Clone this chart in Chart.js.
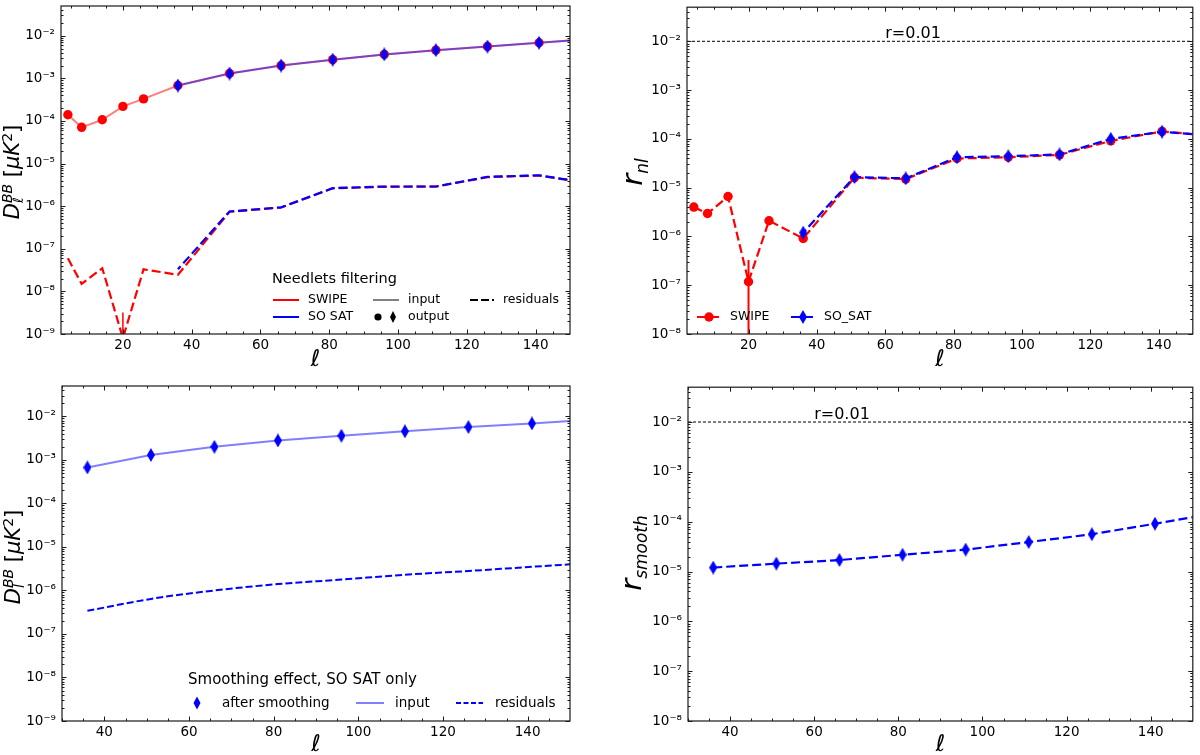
<!DOCTYPE html>
<html>
<head>
<meta charset="utf-8">
<title>Needlets filtering and smoothing residuals</title>
<script src="https://cdn.jsdelivr.net/npm/chart.js@4.4.1/dist/chart.umd.min.js"></script>
<style>
  html, body { margin: 0; padding: 0; background: #fff; }
  .panel { position: absolute; }
  #p1 { left: 0; top: 0; width: 600px; height: 380px; }
  #p2 { left: 600px; top: 0; width: 600px; height: 380px; }
  #p3 { left: 0; top: 380px; width: 600px; height: 375px; }
  #p4 { left: 600px; top: 380px; width: 600px; height: 375px; }
</style>
</head>
<body>
<div class="panel" id="p1"><canvas id="c1"></canvas></div>
<div class="panel" id="p2"><canvas id="c2"></canvas></div>
<div class="panel" id="p3"><canvas id="c3"></canvas></div>
<div class="panel" id="p4"><canvas id="c4"></canvas></div>
<script>
// bin centres; 156 is just past the plotted range so lines run to the edge
const ellSwipe = [4, 8, 14, 20, 26, 36, 51, 66, 81, 96, 111, 126, 141, 156];
const ellSat = [36, 51, 66, 81, 96, 111, 126, 141, 156];

// top left: D_ell^BB, needlets filtering
const swipeInput = [1.4e-4, 7.1e-5, 1.07e-4, 2.2e-4, 3.3e-4, 6.8e-4, 1.3e-3, 2.0e-3, 2.75e-3, 3.65e-3, 4.6e-3, 5.6e-3, 6.85e-3, 8.5e-3];
const swipeOutput = [1.4e-4, 7.1e-5, 1.07e-4, 2.2e-4, 3.3e-4, 6.8e-4, 1.3e-3, 2.0e-3, 2.75e-3, 3.65e-3, 4.6e-3, 5.6e-3, 6.85e-3];
const satInput = [6.8e-4, 1.3e-3, 2.0e-3, 2.75e-3, 3.65e-3, 4.6e-3, 5.6e-3, 6.85e-3, 8.5e-3];
const satOutput = [6.8e-4, 1.3e-3, 2.0e-3, 2.75e-3, 3.65e-3, 4.6e-3, 5.6e-3, 6.85e-3];
const swipeResid = [6.0e-8, 1.5e-8, 3.5e-8, 8e-10, 3.3e-8, 2.45e-8, 7.4e-7, 9.3e-7, 2.63e-6, 2.85e-6, 2.88e-6, 4.8e-6, 5.25e-6, 3.4e-6];
const satResid = [3.3e-8, 7.5e-7, 9.4e-7, 2.65e-6, 2.9e-6, 2.9e-6, 4.9e-6, 5.3e-6, 3.45e-6];
const residErr20 = [3.2e-9, 1e-10];

// top right: r_nl
const rnlSwipe = [4.0e-6, 2.95e-6, 6.6e-6, 1.18e-7, 2.1e-6, 9.1e-7, 1.6e-5, 1.5e-5, 3.95e-5, 4.2e-5, 4.7e-5, 9.1e-5, 1.42e-4, 1.15e-4];
const rnlSat = [1.2e-6, 1.65e-5, 1.55e-5, 4.2e-5, 4.4e-5, 4.8e-5, 1.0e-4, 1.4e-4, 1.15e-4];
const rnlErr20 = [3.3e-7, 1e-9];

// bottom: smoothing effect, SO SAT only
const ellSmooth = [36, 51, 66, 81, 96, 111, 126, 141, 156];
const smoothInput = [6.7e-4, 1.3e-3, 2.0e-3, 2.8e-3, 3.6e-3, 4.55e-3, 5.7e-3, 6.9e-3, 8.5e-3];
const smoothOutput = [6.7e-4, 1.3e-3, 2.0e-3, 2.8e-3, 3.6e-3, 4.55e-3, 5.7e-3, 6.9e-3];
const smoothResid = [3.4e-7, 6.4e-7, 1.0e-6, 1.4e-6, 1.78e-6, 2.3e-6, 2.8e-6, 3.5e-6, 4.35e-6];
const rSmooth = [1.2e-5, 1.44e-5, 1.7e-5, 2.17e-5, 2.75e-5, 3.9e-5, 5.6e-5, 9.1e-5, 1.5e-4];

const rRef = 0.01;

const xTicksTop = [20, 40, 60, 80, 100, 120, 140];
const xTicksBottom = [40, 60, 80, 100, 120, 140];
const yTicksD = [1e-9, 1e-8, 1e-7, 1e-6, 1e-5, 1e-4, 1e-3, 1e-2];
const yTicksR = [1e-8, 1e-7, 1e-6, 1e-5, 1e-4, 1e-3, 1e-2];

const FONT = '"DejaVu Sans", sans-serif';
const RED = '#ff0000';
const BLUE = '#0000ff';
const RED_A = 'rgba(255,0,0,0.5)';
const BLUE_A = 'rgba(0,0,255,0.5)';

const SUP = { '-': '⁻', '0': '⁰', '1': '¹', '2': '²', '3': '³', '4': '⁴', '5': '⁵', '6': '⁶', '7': '⁷', '8': '⁸', '9': '⁹' };
const powLabel = v => '10' + String(Math.round(Math.log10(v))).replace(/./g, c => SUP[c]);

function pts(xs, ys) {
  return ys.map((y, i) => ({ x: xs[i], y: y }));
}
function vbar(x, ys) {
  return ys.map(y => ({ x: x, y: y }));
}

// matplotlib 'd' marker
function thinDiamond(color, w, h) {
  const c = document.createElement('canvas');
  c.width = w; c.height = h;
  const g = c.getContext('2d');
  g.fillStyle = color;
  g.beginPath();
  g.moveTo(w / 2, 0); g.lineTo(w, h / 2); g.lineTo(w / 2, h); g.lineTo(0, h / 2);
  g.closePath();
  g.fill();
  return c;
}
const diamondBlue = thinDiamond(BLUE, 8, 14);

// rotated label with sub/superscripts
function drawRich(ctx, parts, bx, cy) {
  const fontOf = p => (p.it ? 'italic ' : '') + p.s + 'px ' + FONT;
  parts.forEach(p => { ctx.font = fontOf(p); p.w = ctx.measureText(p.t).width; });
  const placed = [];
  let x = 0, i = 0;
  while (i < parts.length) {
    const p = parts[i];
    if (p.stack && i + 1 < parts.length) {
      const q = parts[i + 1];
      placed.push([p, x], [q, x]);
      x += Math.max(p.w, q.w);
      i += 2;
    } else {
      placed.push([p, x]);
      x += p.w;
      i += 1;
    }
  }
  const total = x;
  ctx.save();
  ctx.translate(bx, cy);
  ctx.rotate(-Math.PI / 2);
  ctx.textAlign = 'left';
  ctx.textBaseline = 'alphabetic';
  ctx.fillStyle = '#000';
  placed.forEach(([p, px]) => {
    ctx.font = fontOf(p);
    ctx.fillText(p.t, px - total / 2, p.dy || 0);
  });
  ctx.restore();
}

function drawMark(ctx, m, y) {
  ctx.fillStyle = m.color;
  ctx.beginPath();
  if (m.kind === 'circle') {
    ctx.arc(m.x, y, m.r, 0, Math.PI * 2);
  } else {
    ctx.moveTo(m.x, y - m.h / 2); ctx.lineTo(m.x + m.w / 2, y);
    ctx.lineTo(m.x, y + m.h / 2); ctx.lineTo(m.x - m.w / 2, y);
    ctx.closePath();
  }
  ctx.fill();
}

function drawLegend(ctx, L) {
  ctx.textAlign = 'left';
  ctx.textBaseline = 'middle';
  if (L.title) {
    ctx.fillStyle = '#000';
    ctx.font = L.title.s + 'px ' + FONT;
    ctx.fillText(L.title.text, L.title.x, L.title.y);
  }
  L.items.forEach(it => {
    if (it.line) {
      ctx.strokeStyle = it.line.color;
      ctx.lineWidth = it.line.w;
      ctx.setLineDash(it.line.dash || []);
      ctx.beginPath();
      ctx.moveTo(it.x0, it.y); ctx.lineTo(it.x1, it.y);
      ctx.stroke();
      ctx.setLineDash([]);
    }
    (it.marks || []).forEach(m => drawMark(ctx, m, it.y));
    ctx.fillStyle = '#000';
    ctx.font = L.s + 'px ' + FONT;
    ctx.fillText(it.text, it.tx, it.y);
  });
}

const deco = {
  id: 'deco',
  afterDatasetsDraw(chart, args, o) {
    const ctx = chart.ctx, a = chart.chartArea;
    const xs = chart.scales.x, ys = chart.scales.y;
    ctx.save();

    if (o.rText) {
      ctx.font = '16px ' + FONT;
      ctx.fillStyle = '#000';
      ctx.textAlign = 'left';
      ctx.textBaseline = 'alphabetic';
      ctx.fillText(o.rText.text, xs.getPixelForValue(o.rText.x), ys.getPixelForValue(o.rText.y) - 3);
    }
    if (o.legend) drawLegend(ctx, o.legend);

    // frame, ticks pointing inwards on all four sides
    ctx.strokeStyle = '#1a1a1a';
    ctx.lineWidth = 1.2;
    ctx.strokeRect(a.left, a.top, a.right - a.left, a.bottom - a.top);
    ctx.lineWidth = 1;
    ctx.beginPath();
    const hx = (v, len) => {
      const p = Math.round(xs.getPixelForValue(v)) + 0.5;
      ctx.moveTo(p, a.bottom); ctx.lineTo(p, a.bottom - len);
      ctx.moveTo(p, a.top); ctx.lineTo(p, a.top + len);
    };
    const hy = (v, len) => {
      const p = Math.round(ys.getPixelForValue(v)) + 0.5;
      ctx.moveTo(a.left, p); ctx.lineTo(a.left + len, p);
      ctx.moveTo(a.right, p); ctx.lineTo(a.right - len, p);
    };
    const majorX = xs.ticks.map(t => t.value);
    majorX.forEach(v => hx(v, 4.5));
    for (let v = Math.ceil(xs.min / 5) * 5; v < xs.max; v += 5) {
      if (!majorX.includes(v)) hx(v, 2.5);
    }
    ys.ticks.forEach(t => hy(t.value, 4.5));
    for (let n = Math.floor(Math.log10(ys.min)); n <= Math.ceil(Math.log10(ys.max)); n++) {
      for (let k = 2; k <= 9; k++) {
        const v = k * Math.pow(10, n);
        if (v > ys.min && v < ys.max) hy(v, 2.5);
      }
    }
    ctx.stroke();

    ctx.fillStyle = '#000';
    ctx.font = 'italic 23px ' + FONT;
    ctx.textAlign = 'center';
    ctx.textBaseline = 'middle';
    ctx.fillText('ℓ', (a.left + a.right) / 2, o.xTitleY);
    drawRich(ctx, o.yTitle.parts, o.yTitle.x, o.yTitle.y);
    ctx.restore();
  }
};

function makeChart(id, datasets, xmin, xTicks, yTicks, ymin, pad, decoOpts) {
  const tickFont = { family: FONT, size: 13.5 };
  return new Chart(document.getElementById(id), {
    type: 'line',
    data: { datasets: datasets },
    options: {
      animation: false,
      responsive: true,
      maintainAspectRatio: false,
      events: [],
      layout: { padding: pad },
      elements: { point: { radius: 0 } },
      plugins: {
        legend: { display: false },
        tooltip: { enabled: false },
        deco: decoOpts
      },
      scales: {
        x: {
          type: 'linear', min: xmin, max: 150,
          afterBuildTicks: s => { s.ticks = xTicks.map(v => ({ value: v })); },
          afterFit: s => { s.height = 30; s.paddingLeft = 0; s.paddingRight = 0; },
          grid: { display: false, drawTicks: false },
          border: { display: false },
          ticks: { autoSkip: false, maxRotation: 0, padding: 3, color: '#000', font: tickFont }
        },
        y: {
          type: 'logarithmic', min: ymin, max: 0.05,
          afterBuildTicks: s => { s.ticks = yTicks.map(v => ({ value: v })); },
          afterFit: s => { s.width = 45; s.paddingTop = 0; s.paddingBottom = 0; },
          grid: { display: false, drawTicks: false },
          border: { display: false },
          ticks: { autoSkip: false, padding: 6, color: '#000', font: tickFont, callback: v => powLabel(v) }
        }
      }
    },
    plugins: [deco]
  });
}

const dTitle = sub => [
  { t: 'D', s: 21, it: true },
  { t: 'BB', s: 14, it: true, dy: -7.5, stack: true },
  { t: sub, s: 14, it: true, dy: 3.5 },
  { t: ' [', s: 21 },
  { t: 'μK', s: 21, it: true },
  { t: '2', s: 14, dy: -7.5 },
  { t: ']', s: 21 }
];

// top left
makeChart('c1', [
  { data: pts(ellSwipe, swipeInput), borderColor: RED_A, borderWidth: 2, order: 10 },
  { data: pts(ellSat, satInput), borderColor: BLUE_A, borderWidth: 2, order: 9 },
  { data: pts(ellSwipe, swipeResid), borderColor: RED, borderWidth: 2.2, borderDash: [9, 4], order: 8 },
  { data: pts(ellSat, satResid), borderColor: BLUE, borderWidth: 2.2, borderDash: [9, 4], borderDashOffset: 5, order: 7 },
  { data: vbar(20, residErr20), borderColor: RED, borderWidth: 1.5, order: 6 },
  { data: pts(ellSwipe, swipeOutput), showLine: false, pointStyle: 'circle', pointRadius: 4.7, pointBorderWidth: 0, pointBackgroundColor: RED, order: 5 },
  { data: pts(ellSat, satOutput), showLine: false, pointStyle: diamondBlue, pointRadius: 5, order: 4 }
], 2, xTicksTop, yTicksD, 1e-9, { left: 16, right: 30, top: 5, bottom: 16 }, {
  xTitleY: 360,
  yTitle: { parts: dTitle('ℓ'), x: 19, y: 172 },
  legend: {
    s: 12.5,
    title: { text: 'Needlets filtering', x: 272, y: 279, s: 14.5 },
    items: [
      { y: 300, x0: 273, x1: 299, line: { color: RED, w: 2 }, tx: 308, text: 'SWIPE' },
      { y: 317, x0: 273, x1: 299, line: { color: BLUE, w: 2 }, tx: 308, text: 'SO SAT' },
      { y: 300, x0: 373, x1: 399, line: { color: '#808080', w: 2 }, tx: 408, text: 'input' },
      { y: 317, marks: [{ kind: 'circle', x: 378, r: 3.6, color: '#000' }, { kind: 'diamond', x: 393, w: 6, h: 12, color: '#000' }], tx: 408, text: 'output' },
      { y: 300, x0: 470, x1: 494, line: { color: '#000', w: 2.2, dash: [8, 3] }, tx: 503, text: 'residuals' }
    ]
  }
});

// top right
makeChart('c2', [
  { data: [{ x: 2, y: rRef }, { x: 150, y: rRef }], borderColor: '#000', borderWidth: 1, borderDash: [3, 2], order: 20 },
  { data: pts(ellSwipe, rnlSwipe), borderColor: RED, borderWidth: 2.2, borderDash: [9, 4], pointStyle: 'circle', pointRadius: 4.7, pointBorderWidth: 0, pointBackgroundColor: RED, order: 10 },
  { data: vbar(20, rnlErr20), borderColor: RED, borderWidth: 2, order: 9 },
  { data: pts(ellSat, rnlSat), borderColor: BLUE, borderWidth: 2.2, borderDash: [9, 4], borderDashOffset: 5, pointStyle: diamondBlue, pointRadius: 5, order: 5 }
], 2, xTicksTop, yTicksR, 1e-8, { left: 42, right: 2, top: 5, bottom: 16 }, {
  xTitleY: 360,
  rText: { text: 'r=0.01', x: 60, y: rRef },
  yTitle: { parts: [{ t: 'r', s: 29, it: true }, { t: 'nl', s: 17, it: true, dy: 6 }], x: 42, y: 172 },
  legend: {
    s: 12.5,
    items: [
      { y: 317, x0: 97, x1: 119, line: { color: RED, w: 2.2, dash: [9, 4] }, marks: [{ kind: 'circle', x: 109, r: 4.7, color: RED }], tx: 130, text: 'SWIPE' },
      { y: 317, x0: 191, x1: 213, line: { color: BLUE, w: 2.2, dash: [9, 4] }, marks: [{ kind: 'diamond', x: 203, w: 8, h: 14, color: BLUE }], tx: 224, text: 'SO_SAT' }
    ]
  }
});

// bottom left
makeChart('c3', [
  { data: pts(ellSmooth, smoothInput), borderColor: BLUE_A, borderWidth: 2, order: 10 },
  { data: pts(ellSmooth, smoothResid), borderColor: BLUE, borderWidth: 2, borderDash: [7, 3], cubicInterpolationMode: 'monotone', order: 9 },
  { data: pts(ellSmooth, smoothOutput), showLine: false, pointStyle: diamondBlue, pointRadius: 5, order: 5 }
], 30, xTicksBottom, yTicksD, 1e-9, { left: 17, right: 30, top: 4, bottom: 4 }, {
  xTitleY: 365,
  yTitle: { parts: dTitle('l'), x: 20, y: 177 },
  legend: {
    s: 13.5,
    title: { text: 'Smoothing effect, SO SAT only', x: 188, y: 300, s: 15 },
    items: [
      { y: 323, marks: [{ kind: 'diamond', x: 197, w: 7, h: 13, color: BLUE }], tx: 222, text: 'after smoothing' },
      { y: 323, x0: 356, x1: 384, line: { color: BLUE_A, w: 2 }, tx: 395, text: 'input' },
      { y: 323, x0: 456, x1: 483, line: { color: BLUE, w: 2, dash: [5, 2.5] }, tx: 495, text: 'residuals' }
    ]
  }
});

// bottom right
makeChart('c4', [
  { data: [{ x: 30, y: rRef }, { x: 150, y: rRef }], borderColor: '#000', borderWidth: 1, borderDash: [3, 2], order: 20 },
  { data: pts(ellSmooth, rSmooth), borderColor: BLUE, borderWidth: 2.2, borderDash: [9, 4], pointStyle: diamondBlue, pointRadius: 5, order: 5 }
], 30, xTicksBottom, yTicksR, 1e-8, { left: 43, right: 2, top: 5, bottom: 4 }, {
  xTitleY: 365,
  rText: { text: 'r=0.01', x: 60, y: rRef },
  yTitle: { parts: [{ t: 'r', s: 29, it: true }, { t: 'smooth', s: 17, it: true, dy: 6 }], x: 41, y: 173 }
});
</script>
</body>
</html>
